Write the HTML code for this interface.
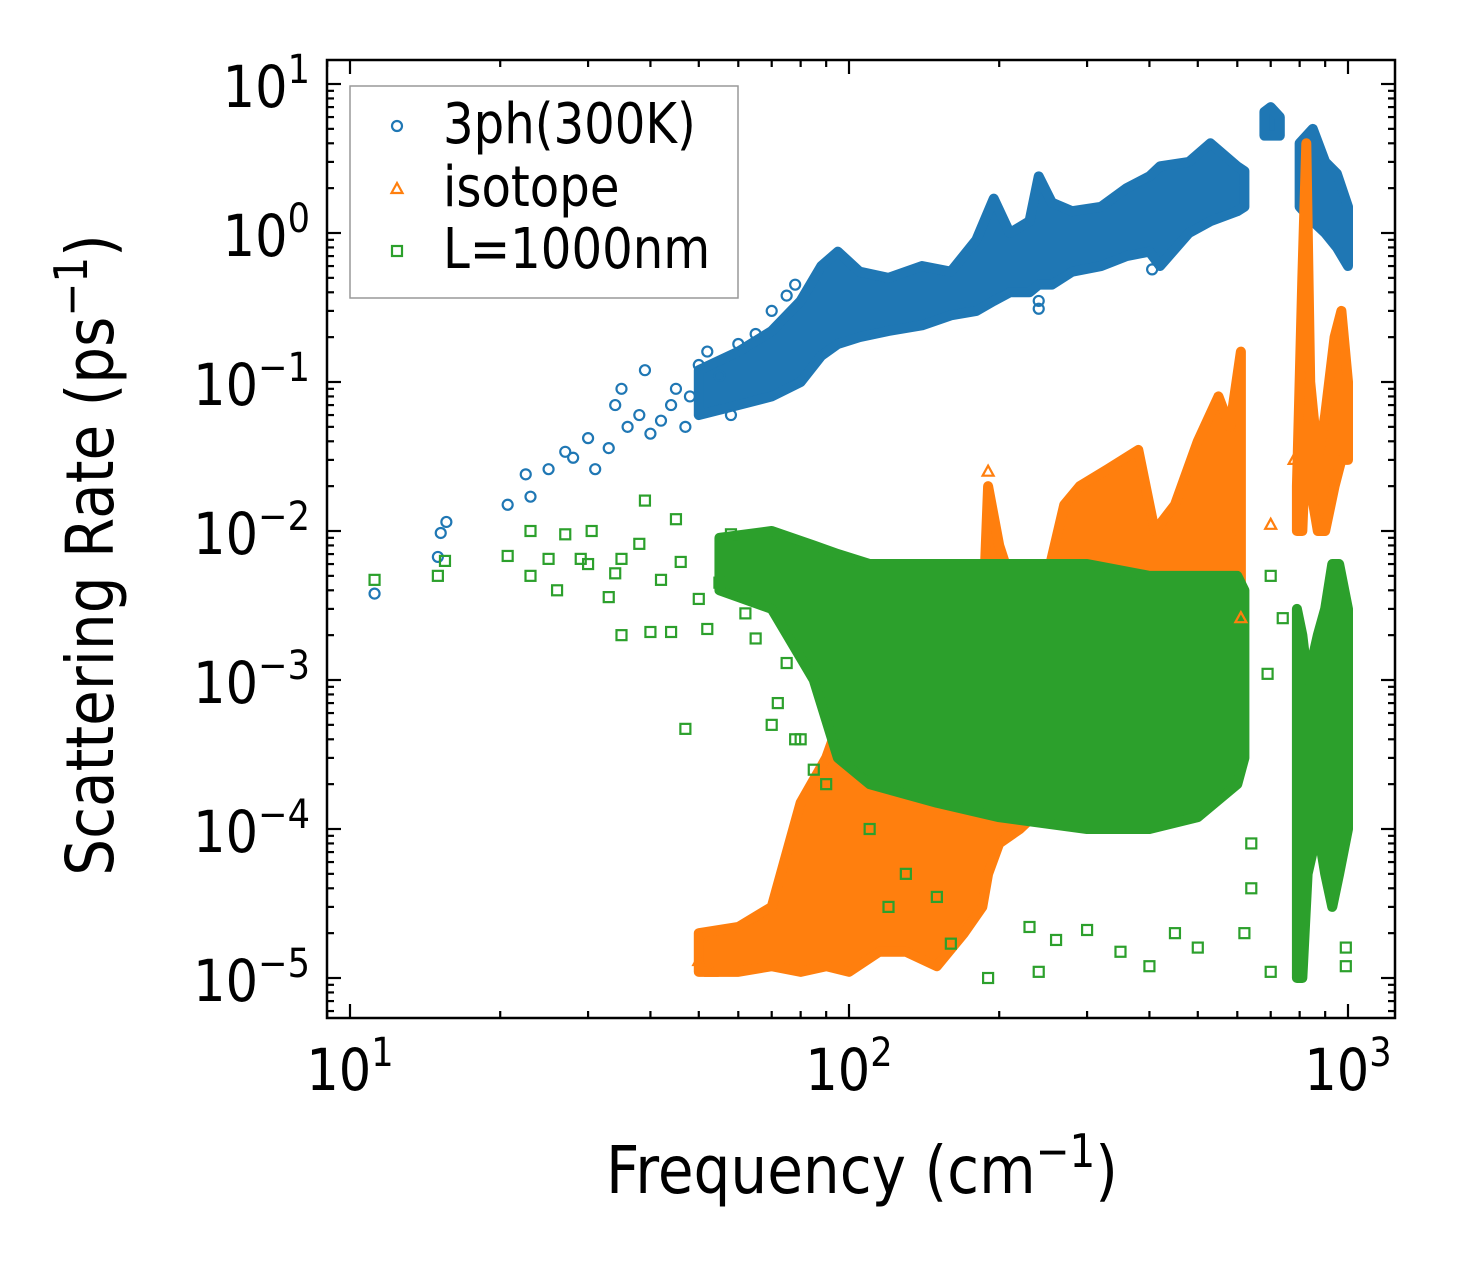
<!DOCTYPE html>
<html><head><meta charset="utf-8">
<style>
html,body{margin:0;padding:0;background:#fff;}
svg{display:block;font-family:"DejaVu Sans","Liberation Sans",sans-serif;}
</style></head>
<body>
<svg id="chart" width="1459" height="1267" viewBox="0 0 1459 1267" xmlns="http://www.w3.org/2000/svg">
<g id="bands"></g>
<g id="points"></g>
<g id="axes"></g>
</svg>
<script>
// ---- data ----
const yTickExps = [-5,-4,-3,-2,-1,0,1];
const xTickExps = [1,2,3];
// sparse points [freq, rate]
const bluePts = [[11.2,0.0038],[15,0.0067],[15.2,0.0097],[15.6,0.0115],[20.7,0.015],[23,0.017],[22.5,0.024],[25,0.026],[27,0.034],[28,0.031],[30,0.042],[31,0.026],[33,0.036],[34,0.07],[35,0.09],[36,0.05],[38,0.06],[39,0.12],[40,0.045],[42,0.055],[44,0.07],[45,0.09],[47,0.05],[48,0.08],[50,0.13],[52,0.16],[55,0.11],[58,0.06],[60,0.18],[65,0.21],[70,0.3],[75,0.38],[78,0.45],[240,0.31],[240,0.35],[405,0.57]];
const orangePts = [[50,1.3e-5],[51,1.8e-5],[53,1.1e-5],[190,2.5e-2],[610,2.6e-3],[700,1.1e-2],[780,3e-2]];
const greenPts = [[11.2,0.0047],[15,0.005],[15.5,0.0063],[20.7,0.0068],[23,0.01],[23,0.005],[25,0.0065],[26,0.004],[27,0.0095],[29,0.0065],[30,0.006],[30.5,0.01],[33,0.0036],[34,0.0052],[35,0.0065],[35,0.002],[38,0.0082],[39,0.016],[40,0.0021],[42,0.0047],[44,0.0021],[45,0.012],[46,0.0062],[47,0.00047],[50,0.0035],[52,0.0022],[55,0.0045],[58,0.0095],[62,0.0028],[65,0.0019],[70,0.0005],[72,0.0007],[75,0.0013],[78,0.0004],[80,0.0004],[85,0.00025],[90,0.0002],[110,0.0001],[120,0.00003],[130,0.00005],[150,0.000035],[160,0.000017],[190,0.00001],[230,0.000022],[240,0.000011],[260,0.000018],[300,0.000021],[350,0.000015],[400,0.000012],[450,0.00002],[500,0.000016],[620,0.00002],[640,0.00004],[640,0.00008],[700,0.000011],[690,0.0011],[700,0.005],[740,0.0026],[990,0.000012],[990,0.000016],[950,0.00012]];
// dense bands [freq, low, high]
const blueBands = [
 [[50,0.06,0.12],[60,0.07,0.16],[70,0.08,0.22],[80,0.1,0.35],[88,0.15,0.6],[95,0.18,0.75],[105,0.2,0.55],[120,0.22,0.5],[140,0.24,0.6],[160,0.28,0.55],[180,0.3,0.9],[195,0.35,1.7],[210,0.4,1.0],[230,0.4,1.2],[240,0.45,2.4],[255,0.45,1.6],[280,0.55,1.4],[320,0.6,1.5],[360,0.7,2.0],[400,0.75,2.4],[420,0.6,2.8],[480,1.0,3.0],[530,1.2,4.0],[600,1.4,2.8],[620,1.5,2.6]],
 [[680,4.5,6.5],[700,4.5,7.0],[730,4.5,6.0]],
 [[800,1.5,4],[850,1.2,5],[900,1.0,3],[950,0.8,2.5],[1000,0.6,1.5]]
];
const orangeBands = [
 [[50,1.1e-5,2e-5],[60,1.1e-5,2.2e-5],[70,1.2e-5,3e-5],[80,1.1e-5,1.5e-4],[90,1.2e-5,3e-4],[100,1.1e-5,8e-4],[115,1.5e-5,6e-4],[130,1.5e-5,6e-4],[150,1.2e-5,8e-4],[170,2e-5,1.2e-3],[185,3e-5,2e-3],[190,5e-5,2.0e-2],[200,8e-5,8e-3],[220,1e-4,3e-3],[250,1.5e-4,5e-3],[270,1.5e-4,1.5e-2],[290,2e-4,2e-2],[330,2e-4,2.6e-2],[380,2e-4,3.5e-2],[410,2e-4,1e-2],[450,2e-4,1.5e-2],[500,2e-4,4e-2],[550,2e-4,8e-2],[580,3e-4,5e-2],[610,3e-4,1.6e-1]],
 [[790,1e-2,2e-2],[810,1e-2,5e-1],[825,5e-2,4.0],[840,2e-2,1e-1],[870,1e-2,3e-2],[900,1e-2,6e-2],[940,2e-2,2e-1],[970,3e-2,3e-1],[1000,3e-2,1e-1]]
];
const greenBands = [
 [[55,4e-3,9e-3],[70,3e-3,1e-2],[85,1e-3,8e-3],[95,3e-4,7e-3],[110,2e-4,6e-3],[150,1.5e-4,6e-3],[200,1.2e-4,6e-3],[300,1e-4,6e-3],[400,1e-4,5e-3],[500,1.2e-4,5e-3],[600,2e-4,5e-3],[620,3e-4,4e-3]],
 [[790,1e-5,3e-3],[810,1e-5,2e-3],[830,5e-5,1e-3],[870,1e-4,2e-3],[900,5e-5,3e-3],[930,3e-5,6e-3],[960,5e-5,6e-3],[1000,1e-4,3e-3]]
];
// ---- scales ----
const PL=327, PR=1395, PT=60, PB=1018;
const xDec=499, yDec=149;
function X(f){return 350 + (Math.log10(f)-1)*xDec;}
function Y(r){return 233 - Math.log10(r)*yDec;}
const NS='http://www.w3.org/2000/svg';
function mk(tag, attrs, parent){const e=document.createElementNS(NS,tag);for(const k in attrs)e.setAttribute(k,attrs[k]);parent.appendChild(e);return e;}
const C={blue:'#1f77b4',orange:'#ff7f0e',green:'#2ca02c'};
const SX=0.88;
const bandsG=document.getElementById('bands'), ptsG=document.getElementById('points'), axG=document.getElementById('axes');
function drawBand(seg,color,name){
  let pts=seg.map(d=>X(d[0])+','+Y(d[2]));
  pts=pts.concat(seg.slice().reverse().map(d=>X(d[0])+','+Y(d[1])));
  const p=mk('polygon',{points:pts.join(' '),fill:color,stroke:color,'stroke-width':10,'stroke-linejoin':'round'},bandsG);
  
  
}
function marker(kind,f,r,color,parent){
  const x=typeof f==='number'&&parent?f:X(f), y=parent?r:Y(r); parent=parent||ptsG;let e;
  if(kind==='c') e=mk('circle',{cx:x,cy:y,r:5,fill:'none',stroke:color,'stroke-width':2.2},parent);
  else if(kind==='t') e=mk('polygon',{points:`${x},${y-6} ${x-5.5},${y+4} ${x+5.5},${y+4}`,fill:'none',stroke:color,'stroke-width':2.2},parent);
  else e=mk('rect',{x:x-5,y:y-5,width:10,height:10,fill:'none',stroke:color,'stroke-width':2.2},parent);
  return e;
}
blueBands.forEach(s=>drawBand(s,C.blue,'blue-3ph-band'));
bluePts.forEach(d=>{const e=marker('c',d[0],d[1],C.blue);
  
  });
orangeBands.forEach(s=>drawBand(s,C.orange,'orange-isotope-band'));
orangePts.forEach(d=>{const e=marker('t',d[0],d[1],C.orange);
  
  });
greenBands.forEach(s=>drawBand(s,C.green,'green-boundary-band'));
greenPts.forEach(d=>{const e=marker('s',d[0],d[1],C.green);
  
  });
// ---- axes ----
const frame=mk('rect',{x:PL,y:PT,width:PR-PL,height:PB-PT,fill:'none',stroke:'#000','stroke-width':2.5},axG);


function tick(x1,y1,x2,y2){mk('line',{x1,y1,x2,y2,stroke:'#000','stroke-width':2.2},axG);}
for(let e=0;e<=3;e++){for(let m=1;m<10;m++){const f=m*Math.pow(10,e);const x=X(f);if(x<PL||x>PR)continue;
  const L=m===1?14:7; tick(x,PB,x,PB-L); tick(x,PT,x,PT+L);}}
xTickExps.forEach(e=>{const cx=X(Math.pow(10,e));
  const t=mk('text',{x:0,y:0,'text-anchor':'middle','font-size':58,transform:`translate(${cx},1090) scale(${SX},1)`},axG);
  t.innerHTML='10<tspan dy="-24" font-size="40">'+e+'</tspan>';
  
  });
for(let e=-6;e<=1;e++){for(let m=1;m<10;m++){const r=m*Math.pow(10,e);const y=Y(r);if(y<PT||y>PB)continue;
  const L=m===1?14:7; tick(PL,y,PL+L,y); tick(PR,y,PR-L,y);}}
yTickExps.forEach(e=>{const cy=Y(Math.pow(10,e));
  const t=mk('text',{x:0,y:0,'text-anchor':'end','font-size':58,transform:`translate(310,${cy+23}) scale(${SX},1)`},axG);
  t.innerHTML='10<tspan dy="-24" font-size="40">'+(e<0?'\u2212'+(-e):e)+'</tspan>';
  
  });
const xt=mk('text',{x:0,y:0,'text-anchor':'middle','font-size':66,transform:`translate(862,1193) scale(${SX},1)`},axG);
xt.innerHTML='Frequency (cm<tspan dy="-26" font-size="46">\u22121</tspan><tspan dy="26">)</tspan>';


const yt=mk('text',{x:0,y:0,'text-anchor':'middle','font-size':66,transform:`translate(113,555) rotate(-90) scale(${SX},1)`},axG);
yt.innerHTML='Scattering Rate (ps<tspan dy="-26" font-size="46">\u22121</tspan><tspan dy="26">)</tspan>';


// legend
const lg=mk('g',{},axG);


mk('rect',{x:350,y:86,width:388,height:212,fill:'#fff','fill-opacity':0.85,stroke:'#999','stroke-width':1.5},lg);
const entries=[['c',C.blue,'3ph(300K)',143],['t',C.orange,'isotope',206],['s',C.green,'L=1000nm',268]];
entries.forEach(en=>{
  const g=mk('g',{},lg);
  
  
  marker(en[0],397,en[3]-17,en[1],g);
  const t=mk('text',{x:0,y:0,'font-size':56,transform:`translate(443,${en[3]}) scale(0.86,1)`},g); t.textContent=en[2];
});
</script>
</body></html>
